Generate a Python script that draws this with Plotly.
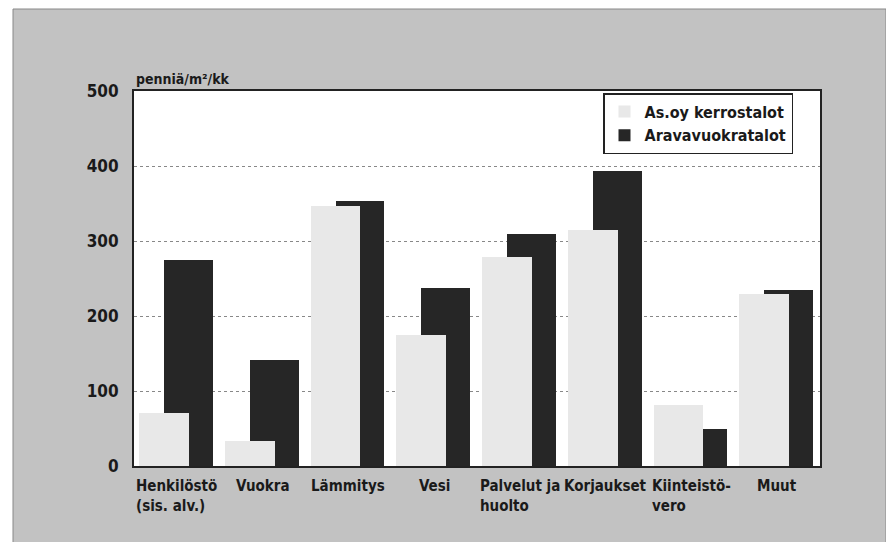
import plotly.graph_objects as go

categories = ["Henkilöstö<br>(sis. alv.)", "Vuokra", "Lämmitys", "Vesi",
              "Palvelut ja<br>huolto", "Korjaukset", "Kiinteistö-<br>vero", "Muut"]
as_oy = [71, 33, 347, 175, 279, 315, 82, 229]
arava = [275, 142, 353, 237, 310, 393, 49, 235]
y_ticks = [0, 100, 200, 300, 400, 500]
y_title = "penniä/m²/kk"
series_names = ["As.oy kerrostalot", "Aravavuokratalot"]

FONT = "DejaVu Sans Condensed, Roboto Condensed, Liberation Sans Narrow, Roboto, sans-serif"
x_idx = list(range(len(categories)))

# page has an 8px body margin: compensate
OFF = 8
W = 686.0
H = 375.0

fig = go.Figure()
fig.add_trace(go.Bar(
    x=x_idx, y=arava, name=series_names[1],
    marker=dict(color="#262626", line=dict(width=0)),
    offset=-0.15, width=0.57, legendrank=2,
))
fig.add_trace(go.Bar(
    x=x_idx, y=as_oy, name=series_names[0],
    marker=dict(color="#e8e8e8", line=dict(width=0)),
    offset=-0.44, width=0.58, legendrank=1,
))

for i, c in enumerate(categories):
    fig.add_annotation(x=i, y=-0.025, xref="x", yref="paper", text=c,
                       showarrow=False, xanchor="center", yanchor="top",
                       align="left",
                       font=dict(family=FONT, size=15, color="#1a1a1a", weight="bold"))

fig.add_annotation(x=0, y=1.005, xref="paper", yref="paper", text=y_title,
                   showarrow=False, xanchor="left", yanchor="bottom",
                   font=dict(family=FONT, size=14, color="#1a1a1a", weight="bold"))

fig.add_shape(type="rect", xref="paper", yref="paper", layer="below",
              x0=(13 - 134) / W, x1=(886 - 134) / W,
              y0=(466 - 560) / H, y1=(466 - 9) / H,
              fillcolor="#c2c2c2", line=dict(color="#888888", width=1))
fig.add_shape(type="rect", xref="paper", yref="paper", layer="below",
              x0=0, x1=1, y0=0, y1=1,
              fillcolor="white", line=dict(width=0))

fig.update_layout(
    width=894 - OFF, height=542 - OFF,
    margin=dict(l=134 - OFF, r=74, t=91 - OFF, b=76),
    paper_bgcolor="white", plot_bgcolor="rgba(0,0,0,0)",
    barmode="overlay", bargap=0,
    showlegend=True,
    legend=dict(x=(603 - 134) / W, y=(466 - 93) / H, xanchor="left", yanchor="top",
                bgcolor="white", bordercolor="#222222", borderwidth=1.5,
                font=dict(family=FONT, size=16, color="#1a1a1a", weight="bold"),
                itemsizing="constant", tracegroupgap=0),
    xaxis=dict(range=[-0.5, len(categories) - 0.5], showticklabels=False,
               showgrid=False, zeroline=False, ticks="",
               showline=True, linecolor="#222222", linewidth=2, mirror=True),
    yaxis=dict(range=[0, 500], tickvals=y_ticks, ticks="",
               showgrid=True, gridcolor="#888888", griddash="dot", gridwidth=1,
               zeroline=False, showline=True, linecolor="#222222", linewidth=2,
               mirror=True, ticklabelstandoff=10,
               tickfont=dict(family=FONT, size=17, color="#1a1a1a", weight="bold")),
)

fig.write_html("out.html")
